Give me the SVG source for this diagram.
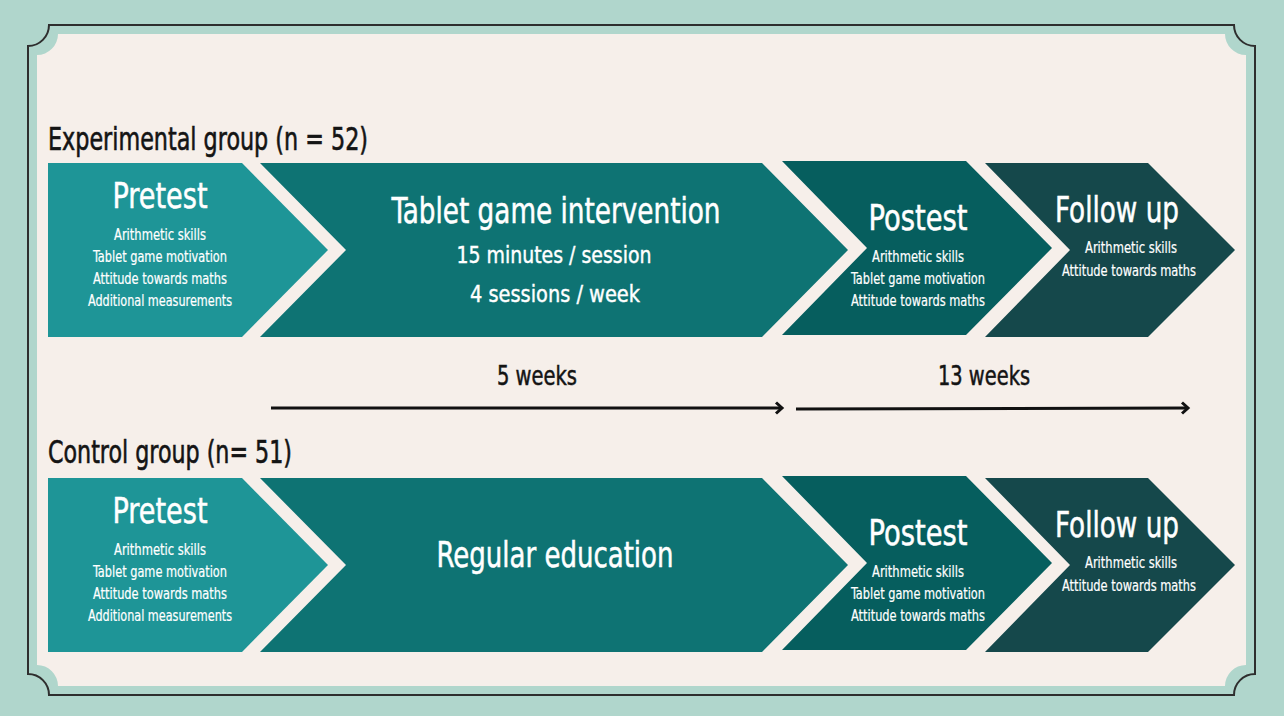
<svg xmlns="http://www.w3.org/2000/svg" width="1284" height="716" viewBox="0 0 1284 716">
<defs>
<style>
text{font-family:"Liberation Sans Narrow","DejaVu Sans Condensed","Roboto",sans-serif;}
.w{fill:#ffffff;text-anchor:middle;}
.t1{font-size:35px;stroke:#ffffff;stroke-width:0.5;}
.t2{font-size:23px;stroke:#ffffff;stroke-width:0.4;}
.s{font-size:15px;stroke:#ffffff;stroke-width:0.2;}
.h{fill:#141414;font-size:32px;stroke:#141414;stroke-width:0.6;}
.d{fill:#141414;font-size:27px;text-anchor:middle;stroke:#141414;stroke-width:0.5;}
.pre{fill:#1e9597;}
.mid{fill:#0e7373;}
.post{fill:#065e5e;}
.fol{fill:#15484b;}
.arr{stroke:#111;stroke-width:3;fill:none;}
</style>
<marker id="ah" markerUnits="userSpaceOnUse" markerWidth="14" markerHeight="14" refX="9" refY="7" orient="auto">
<path d="M3,1.5 L9,7 L3,12.5" fill="none" stroke="#111" stroke-width="3"/>
</marker>
</defs>
<rect x="0" y="0" width="1284" height="716" fill="#b0d6cc"/>
<path d="M49,25 H1234 A21,21 0 0 0 1255,46 V674 A21,21 0 0 0 1234,695 H49 A21,21 0 0 0 28,674 V46 A21,21 0 0 0 49,25 Z" fill="none" stroke="#2e2e2e" stroke-width="2"/>
<path d="M58,34 H1225 A21,21 0 0 0 1246,55 V665 A21,21 0 0 0 1225,686 H58 A21,21 0 0 0 37,665 V55 A21,21 0 0 0 58,34 Z" fill="#f6efea"/>

<g id="heading-experimental">
<text class="h" x="48" y="150" textLength="320" lengthAdjust="spacingAndGlyphs">Experimental group (n = 52)</text>
</g>
<g id="heading-control">
<text class="h" x="48" y="463" textLength="244" lengthAdjust="spacingAndGlyphs">Control group (n= 51)</text>
</g>

<g id="exp-pretest">
<path class="pre" d="M48,163 H242 L328,250 L242,337 H48 Z"/>
<text class="w t1" x="160" y="208" textLength="95" lengthAdjust="spacingAndGlyphs">Pretest</text>
<text class="w s" x="160" y="240" textLength="92" lengthAdjust="spacingAndGlyphs">Arithmetic skills</text>
<text class="w s" x="160" y="262" textLength="134" lengthAdjust="spacingAndGlyphs">Tablet game motivation</text>
<text class="w s" x="160" y="284" textLength="134" lengthAdjust="spacingAndGlyphs">Attitude towards maths</text>
<text class="w s" x="160" y="306" textLength="144" lengthAdjust="spacingAndGlyphs">Additional measurements</text>
</g>
<g id="exp-intervention">
<path class="mid" d="M260,163 H762 L848,250 L762,337 H260 L346,250 Z"/>
<text class="w t1" x="556" y="223" textLength="329" lengthAdjust="spacingAndGlyphs">Tablet game intervention</text>
<text class="w t2" x="554" y="263" textLength="195" lengthAdjust="spacingAndGlyphs">15 minutes / session</text>
<text class="w t2" x="555" y="302" textLength="170" lengthAdjust="spacingAndGlyphs">4 sessions / week</text>
</g>
<g id="exp-posttest">
<path class="post" d="M782,161 H966 L1052,248 L966,335 H782 L867,248 Z"/>
<text class="w t1" x="918" y="230" textLength="99" lengthAdjust="spacingAndGlyphs">Postest</text>
<text class="w s" x="918" y="262" textLength="92" lengthAdjust="spacingAndGlyphs">Arithmetic skills</text>
<text class="w s" x="918" y="284" textLength="134" lengthAdjust="spacingAndGlyphs">Tablet game motivation</text>
<text class="w s" x="918" y="306" textLength="134" lengthAdjust="spacingAndGlyphs">Attitude towards maths</text>
</g>
<g id="exp-followup">
<path class="fol" d="M985,163 H1148 L1235,250 L1148,337 H985 L1070,250 Z"/>
<text class="w t1" x="1117" y="222" textLength="124" lengthAdjust="spacingAndGlyphs">Follow up</text>
<text class="w s" x="1131" y="253" textLength="92" lengthAdjust="spacingAndGlyphs">Arithmetic skills</text>
<text class="w s" x="1129" y="276" textLength="134" lengthAdjust="spacingAndGlyphs">Attitude towards maths</text>
</g>

<g id="ctl-pretest">
<path class="pre" d="M48,478 H242 L328,565 L242,652 H48 Z"/>
<text class="w t1" x="160" y="523" textLength="95" lengthAdjust="spacingAndGlyphs">Pretest</text>
<text class="w s" x="160" y="555" textLength="92" lengthAdjust="spacingAndGlyphs">Arithmetic skills</text>
<text class="w s" x="160" y="577" textLength="134" lengthAdjust="spacingAndGlyphs">Tablet game motivation</text>
<text class="w s" x="160" y="599" textLength="134" lengthAdjust="spacingAndGlyphs">Attitude towards maths</text>
<text class="w s" x="160" y="621" textLength="144" lengthAdjust="spacingAndGlyphs">Additional measurements</text>
</g>
<g id="ctl-regular">
<path class="mid" d="M260,478 H762 L848,565 L762,652 H260 L346,565 Z"/>
<text class="w t1" x="555" y="567" textLength="237" lengthAdjust="spacingAndGlyphs">Regular education</text>
</g>
<g id="ctl-posttest">
<path class="post" d="M782,476 H966 L1052,563 L966,650 H782 L867,563 Z"/>
<text class="w t1" x="918" y="545" textLength="99" lengthAdjust="spacingAndGlyphs">Postest</text>
<text class="w s" x="918" y="577" textLength="92" lengthAdjust="spacingAndGlyphs">Arithmetic skills</text>
<text class="w s" x="918" y="599" textLength="134" lengthAdjust="spacingAndGlyphs">Tablet game motivation</text>
<text class="w s" x="918" y="621" textLength="134" lengthAdjust="spacingAndGlyphs">Attitude towards maths</text>
</g>
<g id="ctl-followup">
<path class="fol" d="M985,478 H1148 L1235,565 L1148,652 H985 L1070,565 Z"/>
<text class="w t1" x="1117" y="537" textLength="124" lengthAdjust="spacingAndGlyphs">Follow up</text>
<text class="w s" x="1131" y="568" textLength="92" lengthAdjust="spacingAndGlyphs">Arithmetic skills</text>
<text class="w s" x="1129" y="591" textLength="134" lengthAdjust="spacingAndGlyphs">Attitude towards maths</text>
</g>

<g id="connectors">
<line class="arr" x1="271" y1="408" x2="782" y2="408" marker-end="url(#ah)"/>
<line class="arr" x1="796" y1="409" x2="1188" y2="408" marker-end="url(#ah)"/>
<text class="d" x="537" y="385" textLength="80" lengthAdjust="spacingAndGlyphs">5 weeks</text>
<text class="d" x="984" y="385" textLength="92" lengthAdjust="spacingAndGlyphs">13 weeks</text>
</g>
</svg>
